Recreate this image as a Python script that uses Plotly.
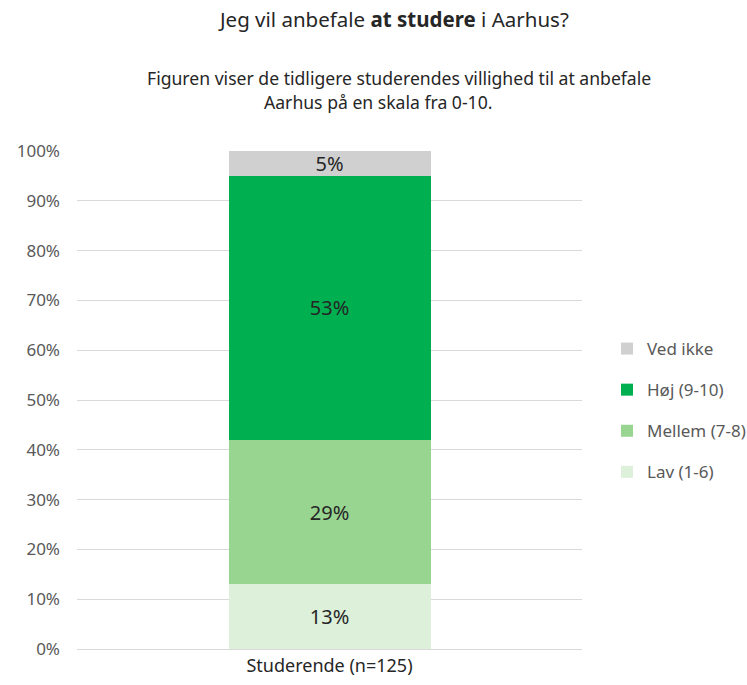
import plotly.graph_objects as go

# Survey answers, share of respondents (%)
category = ["Studerende (n=125)"]
series_names = ["Lav (1-6)", "Mellem (7-8)", "Høj (9-10)", "Ved ikke"]
series_values = [[13], [29], [53], [5]]
series_colors = ["#DDF0DA", "#98D591", "#00B050", "#D0D0D0"]

y_ticks = list(range(0, 101, 10))
y_tick_labels = [f"{v}%" for v in y_ticks]

FONT = "Noto Sans"
W, H = 747, 685
L, R, T, B = 77, 165, 151, 36
PH = H - T - B
PW = W - L - R


def px_x(x):
    return (x - L) / PW


def px_y(y):
    return (H - B - y) / PH


fig = go.Figure()
n = len(series_names)
for i, (name, vals, col) in enumerate(zip(series_names, series_values, series_colors)):
    fig.add_trace(go.Bar(
        x=category, y=vals, name=name, marker_color=col,
        marker_line_width=0,
        text=[f"{v}%" for v in vals], textposition="inside",
        insidetextanchor="middle",
        textfont=dict(family=FONT, size=20, color="#262626"),
        legendgroup=name,
        legendrank=n - i,  # top segment listed first
    ))

fig.update_layout(
    barmode="stack",
    bargap=0.6,
    width=W, height=H,
    margin=dict(l=L, r=R, t=T, b=B, autoexpand=False),
    plot_bgcolor="white", paper_bgcolor="white",
    font=dict(family=FONT, color="#595959"),
    uniformtext=dict(minsize=20, mode="show"),
    yaxis=dict(
        range=[0, 100], tickvals=y_ticks, ticktext=y_tick_labels,
        showgrid=True, gridcolor="#D9D9D9", gridwidth=1,
        zeroline=False, showline=False, ticks="",
        tickfont=dict(family=FONT, size=17, color="#595959"),
        ticklabelstandoff=16,
    ),
    xaxis=dict(
        showline=True, linecolor="#D9D9D9", linewidth=1, ticks="",
        tickfont=dict(family=FONT, size=18, color="#262626"),
    ),
    legend=dict(
        traceorder="grouped",
        xref="container", yref="container",
        x=607 / W, xanchor="left", y=1 - 410.5 / H, yanchor="middle",
        font=dict(family=FONT, size=17, color="#595959"),
        tracegroupgap=16, itemwidth=30,
    ),
    annotations=[
        dict(
            text="Jeg vil anbefale <b>at studere</b> i Aarhus?",
            xref="paper", yref="paper", x=px_x(393), y=px_y(19),
            xanchor="center", yanchor="middle", showarrow=False,
            font=dict(family=FONT, size=20.5, color="#262626"),
        ),
        dict(
            text="Figuren viser de tidligere studerendes villighed til at anbefale",
            xref="paper", yref="paper", x=px_x(399), y=px_y(78),
            xanchor="center", yanchor="middle", showarrow=False,
            font=dict(family=FONT, size=17.6, color="#262626"),
        ),
        dict(
            text="Aarhus på en skala fra 0-10.",
            xref="paper", yref="paper", x=px_x(378), y=px_y(102),
            xanchor="center", yanchor="middle", showarrow=False,
            font=dict(family=FONT, size=17.6, color="#262626"),
        ),
    ],
)

fig.write_html("out.html")
